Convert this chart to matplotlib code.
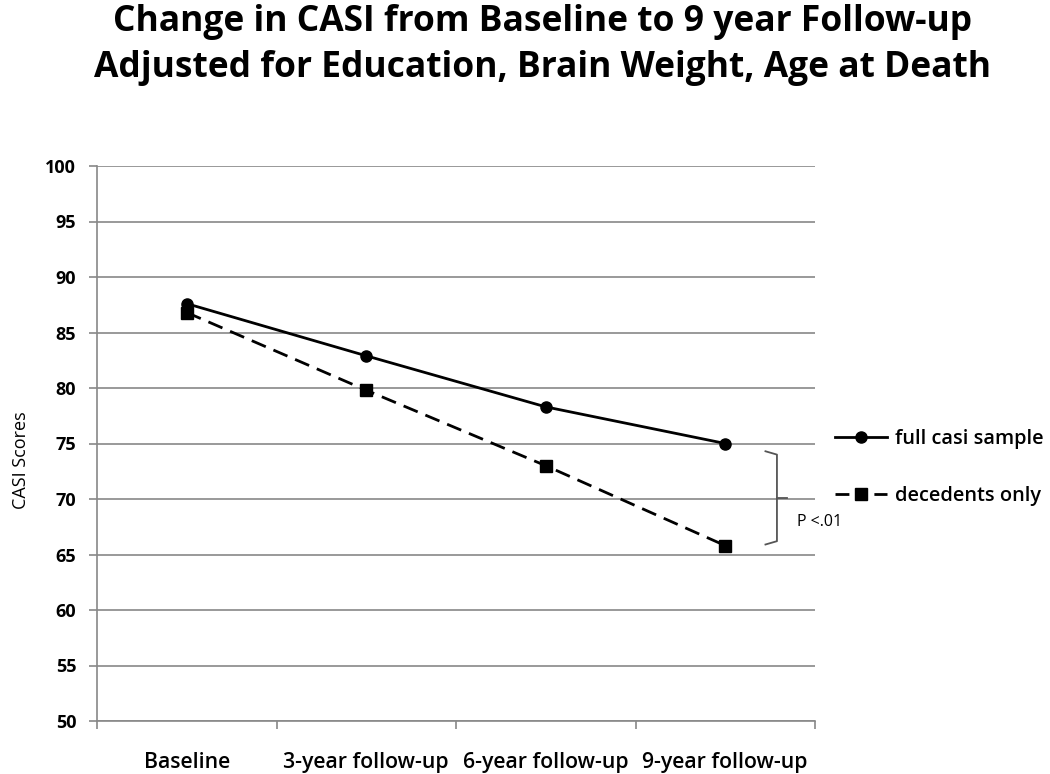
import matplotlib
matplotlib.use("Agg")
import matplotlib.pyplot as plt
import matplotlib.transforms as mtransforms
from matplotlib.lines import Line2D

categories = ["Baseline", "3-year follow-up", "6-year follow-up", "9-year follow-up"]
full_casi = [87.6, 82.9, 78.3, 75.0]
decedents = [86.8, 79.8, 73.0, 65.8]
y_ticks = [50, 55, 60, 65, 70, 75, 80, 85, 90, 95, 100]
title = "Change in CASI from Baseline to 9 year Follow-up\nAdjusted for Education, Brain Weight, Age at Death"

plt.rcParams['font.family'] = ['Open Sans', 'DejaVu Sans']

fig = plt.figure(figsize=(10.5, 7.74), dpi=100)
ax = fig.add_axes([97/1050, 1-721/774, 718/1050, (721-166)/774])

x = list(range(len(categories)))
l1, = ax.plot(x, full_casi, color='black', lw=2, marker='o', ms=8, label='full casi sample')
l2, = ax.plot(x, decedents, color='black', lw=2, ls=(0, (5.5, 3)), marker='s', ms=8.5,
              label='decedents only')

ax.set_xlim(-0.5, len(categories) - 0.5)
ax.set_ylim(50, 100)
ax.set_yticks(y_ticks)
ax.set_yticklabels([str(v) for v in y_ticks], fontsize=13, fontweight='bold')
ax.set_xticks([i - 0.5 for i in range(len(categories) + 1)])
ax.set_xticklabels([])
ax.set_xticks(x, minor=True)
ax.set_xticklabels(categories, minor=True, fontsize=15.3, fontweight='semibold')
ax.tick_params(axis='x', which='minor', length=0, pad=22)
ax.tick_params(axis='x', which='major', length=6, color='#888888', width=1.2)
ax.tick_params(axis='y', length=6, color='#888888', width=1.2, pad=9)

ax.grid(axis='y', color='#888888', lw=1.2)
ax.set_axisbelow(True)
for s in ['top', 'right']:
    ax.spines[s].set_visible(False)
for s in ['left', 'bottom']:
    ax.spines[s].set_color('#888888')
    ax.spines[s].set_linewidth(1.2)

ax.set_ylabel("CASI Scores", fontsize=13)
ax.yaxis.set_label_coords(-0.093, 0.47)

# bracket indicating significance
tr = mtransforms.blended_transform_factory(ax.transAxes, ax.transData)
bx = 0.947
top = full_casi[-1] - 0.7
bot = decedents[-1] + 0.1
mid = (top + bot) / 2
ax.plot([bx - 0.016, bx, bx, bx - 0.016], [top, top - 0.3, bot + 0.3, bot], color='#555555',
        lw=1.3, transform=tr, clip_on=False)
ax.plot([bx, bx + 0.014], [mid, mid], color='#555555', lw=1.3, transform=tr, clip_on=False)
ax.text(bx + 0.028, mid - 2.2, "P <.01", transform=tr, fontsize=11.5, va='center', ha='left')

# legend handle for decedents drawn as "—■—" like the original
proxy = Line2D([], [], color='black', lw=2, ls=(0, (5.0, 9.0)), marker='s', ms=8.5)
ax.legend(handles=[l1, proxy], labels=['full casi sample', 'decedents only'],
          loc='center left', bbox_to_anchor=(1.028, 0.456), frameon=False,
          handlelength=2.6, labelspacing=1.85, handletextpad=0.4, borderaxespad=0,
          borderpad=0, prop={'size': 14.4, 'weight': 'semibold'})

fig.text(0.517, 0.942, title, ha='center', va='center', fontsize=25.5, fontweight='bold',
         linespacing=1.35)

fig.savefig("out.png", dpi=100)
